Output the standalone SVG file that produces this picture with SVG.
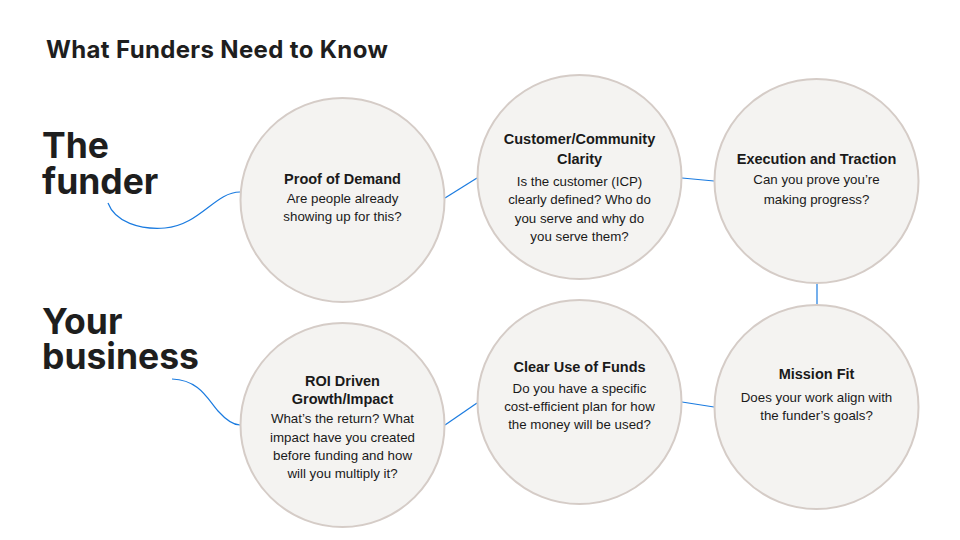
<svg xmlns="http://www.w3.org/2000/svg" width="960" height="540" viewBox="0 0 960 540">
<style>
.node circle{fill:#f4f3f1;stroke:#d5ccc7;stroke-width:2}
.hd{font-family:Inter,"Liberation Sans",sans-serif;font-weight:700;fill:#1e1e1e}
.t{font-family:"Liberation Sans",Arial,sans-serif;font-weight:700;font-size:14.5px;fill:#1a1a1a;text-anchor:middle}
.b{font-family:"Liberation Sans",Arial,sans-serif;font-size:13.3px;fill:#1a1a1a;text-anchor:middle}
.conn path,.conn line{fill:none;stroke:#1a7be0;stroke-width:1.2}
</style>
<rect width="960" height="540" fill="#ffffff"/>
<text class="hd" x="46" y="58" font-size="24" letter-spacing="0.35">What Funders Need to Know</text>
<text class="hd" x="42" y="158" font-size="35.5">The</text>
<text class="hd" x="42" y="194" font-size="35.5">funder</text>
<text class="hd" x="42" y="334" font-size="35.5">Your</text>
<text class="hd" x="42" y="369" font-size="35.5">business</text>
<g class="conn">
<path d="M108,203 C115,222 140,230 165,228 C200,225 215,192 240,192"/>
<path d="M172,379 C200,380 208,400 218,411 C227,421 233,425 240,425"/>
<line x1="445" y1="198" x2="477" y2="178"/>
<line x1="682" y1="178" x2="714" y2="181"/>
<line x1="817" y1="283" x2="817" y2="305"/>
<line x1="682" y1="402" x2="714" y2="407"/>
<line x1="445" y1="425" x2="477" y2="403"/>
</g>
<g id="proof" class="node">
<circle cx="342.5" cy="200" r="102"/>
<text class="t" x="342.5" y="184">Proof of Demand</text>
<text class="b" x="342.5" y="203">Are people already</text>
<text class="b" x="342.5" y="221">showing up for this?</text>
</g>
<g id="customer" class="node">
<circle cx="579.5" cy="177" r="102"/>
<text class="t" x="579.5" y="144">Customer/Community</text>
<text class="t" x="579.5" y="164">Clarity</text>
<text class="b" x="579.5" y="186">Is the customer (ICP)</text>
<text class="b" x="579.5" y="204">clearly defined? Who do</text>
<text class="b" x="579.5" y="223">you serve and why do</text>
<text class="b" x="579.5" y="241">you serve them?</text>
</g>
<g id="execution" class="node">
<circle cx="816.5" cy="181" r="102"/>
<text class="t" x="816.5" y="164">Execution and Traction</text>
<text class="b" x="816.5" y="184">Can you prove you’re</text>
<text class="b" x="816.5" y="204">making progress?</text>
</g>
<g id="roi" class="node">
<circle cx="342.5" cy="425" r="102"/>
<text class="t" x="342.5" y="386">ROI Driven</text>
<text class="t" x="342.5" y="404">Growth/Impact</text>
<text class="b" x="342.5" y="423">What’s the return? What</text>
<text class="b" x="342.5" y="442">impact have you created</text>
<text class="b" x="342.5" y="460">before funding and how</text>
<text class="b" x="342.5" y="478">will you multiply it?</text>
</g>
<g id="funds" class="node">
<circle cx="579.5" cy="402" r="102"/>
<text class="t" x="579.5" y="372">Clear Use of Funds</text>
<text class="b" x="579.5" y="393">Do you have a specific</text>
<text class="b" x="579.5" y="411">cost-efficient plan for how</text>
<text class="b" x="579.5" y="429">the money will be used?</text>
</g>
<g id="mission" class="node">
<circle cx="816.5" cy="407" r="102"/>
<text class="t" x="816.5" y="379">Mission Fit</text>
<text class="b" x="816.5" y="402">Does your work align with</text>
<text class="b" x="816.5" y="420">the funder’s goals?</text>
</g>
</svg>
